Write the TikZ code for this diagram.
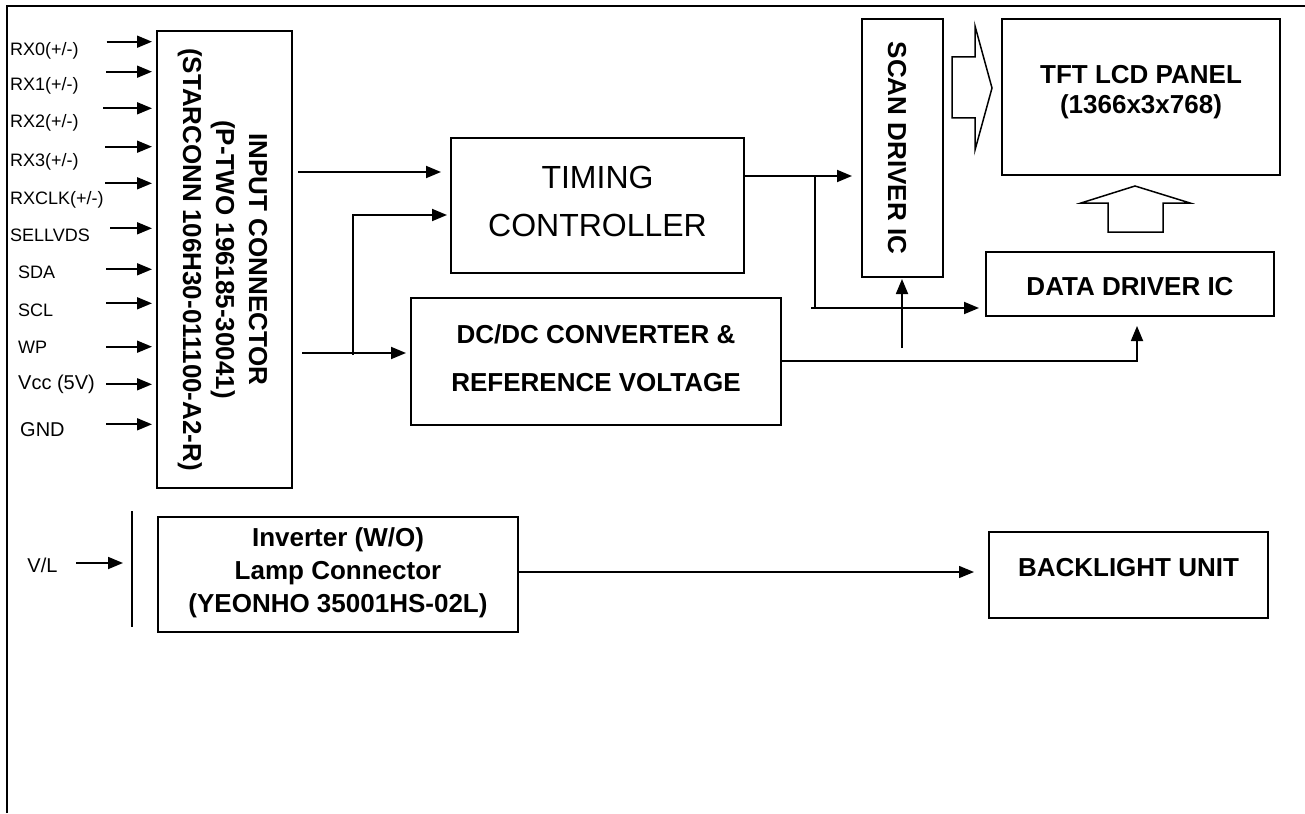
\documentclass[tikz,border=0pt]{standalone}
\usepackage{fontspec}
\setmainfont{Liberation Sans}
\usetikzlibrary{arrows.meta}
\begin{document}
\begin{tikzpicture}[x=1pt,y=-1pt,
  box/.style={draw, line width=2pt, inner sep=0pt},
  arr/.style={line width=1.8pt, -{Triangle[length=15pt,width=12pt]}},
  thinarr/.style={line width=1.4pt, -{Triangle[length=15pt,width=12pt]}},
  btxt/.style={font=\fontsize{26}{33}\selectfont\bfseries, align=center, inner sep=0pt},
  lbl/.style={font=\fontsize{18}{20}\selectfont, anchor=west, inner sep=0pt},
  lblb/.style={font=\fontsize{20}{22}\selectfont, anchor=west, inner sep=0pt},
  hollow/.style={draw, line width=1.5pt, line join=miter}]
\useasboundingbox (0,0) rectangle (1305,813);
% frame
\draw[line width=1.5pt] (7,813) -- (7,6) -- (1305,6);

% boxes
\node[box, minimum width=135pt, minimum height=456pt] (inp) at (224.5,259.5) {};
\node[btxt, rotate=-90] (inptxt) at (222.5,259.5) {INPUT CONNECTOR\\(P-TWO 196185-30041)\\(STARCONN 106H30-011100-A2-R)};
\node[box, minimum width=293pt, minimum height=135pt] (tc) at (597.5,205.5) {};
\node[font=\fontsize{32}{48}\selectfont, align=center, inner sep=0pt] (tctxt) at (597.5,201) {TIMING\\CONTROLLER};
\node[box, minimum width=370pt, minimum height=127pt] (dc) at (596,361.5) {};
\node[font=\fontsize{26}{48}\selectfont\bfseries, align=center, inner sep=0pt] (dctxt) at (596,358) {DC/DC CONVERTER \&\\REFERENCE VOLTAGE};
\node[box, minimum width=81pt, minimum height=258pt] (scan) at (902.5,148) {};
\node[btxt, rotate=-90] (scantxt) at (897,148) {SCAN DRIVER IC};
\node[box, minimum width=278pt, minimum height=156pt] (panel) at (1141,97) {};
\node[font=\fontsize{26}{30}\selectfont\bfseries, align=center, inner sep=0pt] (paneltxt) at (1141,92) {TFT LCD PANEL\\(1366x3x768)};
\node[box, minimum width=288pt, minimum height=64pt] (dd) at (1130,284) {};
\node[btxt] (ddtxt) at (1130,287) {DATA DRIVER IC};
\node[box, minimum width=360pt, minimum height=115pt] (inv) at (338,574.5) {};
\node[btxt] (invtxt) at (338,573) {Inverter (W/O)\\Lamp Connector\\(YEONHO 35001HS-02L)};
\node[box, minimum width=279pt, minimum height=86pt] (bl) at (1128.5,575) {};
\node[btxt] (bltxt) at (1128.5,568) {BACKLIGHT UNIT};

% left input labels and arrows
\node[lbl] (l1) at (10,50.7) {RX0(+/-)};
\node[lbl] (l2) at (10,85.7) {RX1(+/-)};
\node[lbl] (l3) at (10,123) {RX2(+/-)};
\node[lbl] (l4) at (10,161.7) {RX3(+/-)};
\node[lbl] (l5) at (10,200) {RXCLK(+/-)};
\node[lbl] (l6) at (10,235) {SELLVDS};
\node[lbl] (l7) at (18,272.7) {SDA};
\node[lbl] (l8) at (18,310) {SCL};
\node[lbl] (l9) at (18,347) {WP};
\node[lblb] (l10) at (18,384) {Vcc (5V)};
\node[lblb] (l11) at (20,430) {GND};
\coordinate (s1) at (106.7,41.7);
\coordinate (s2) at (106,71.7);
\coordinate (s3) at (103.3,108.3);
\coordinate (s4) at (105,146.7);
\coordinate (s5) at (105,183.3);
\coordinate (s6) at (110,228.3);
\coordinate (s7) at (106,269.3);
\coordinate (s8) at (106,303.3);
\coordinate (s9) at (106,346.7);
\coordinate (s10) at (106,384.3);
\coordinate (s11) at (106,424.3);
\foreach \i in {1,...,11} {\draw[arr, shorten >=4pt] (s\i) -- (inp.west |- s\i);}

% input connector to timing / dcdc
\draw[arr, shorten <=5pt, shorten >=9pt] (inp.east |- 0,172) -- (tc.west |- 0,172);
\draw[arr, shorten <=9pt, shorten >=4pt] (inp.east |- 0,353) -- (dc.west |- 0,353);
\coordinate (j1) at (353,355);
\draw[arr, shorten >=3pt] (j1) |- (tc.west |- 0,215);

% timing to scan / data
\draw[arr, shorten >=9pt] (tc.east |- 0,176) -- (scan.west |- 0,176);
\coordinate (j2) at (815,176);
\coordinate (j2b) at (815,308);
\coordinate (j2c) at (811,308);
\draw[line width=1.8pt] (j2) -- (j2b);
\draw[arr, shorten >=6pt] (j2c) -- (dd.west |- j2c);

% dcdc to scan / data
\coordinate (j3) at (902,348);
\draw[arr, shorten >=1pt] (j3) -- (scan.south -| j3);
\draw[arr, shorten >=9pt] (dc.east |- 0,361) -| (dd.south -| 1137,0);

% hollow arrows
\draw[hollow] (952,57) -- (975,57) -- (975,26) -- (992,88) -- (975,150) -- (975,118) -- (952,118) -- cycle;
\draw[hollow] (1108,232) -- (1108,203) -- (1081,203) -- (1135,186) -- (1190,203) -- (1163,203) -- (1163,232) -- cycle;

% V/L
\node[lblb, anchor=center] (vl) at (42.5,565) {V/L};
\coordinate (vs) at (76,563);
\coordinate (bt) at (132,511);
\coordinate (bb) at (132,627);
\draw[line width=1.5pt] (bt) -- (bb);
\draw[arr, shorten >=9pt] (vs) -- (bt |- vs);

% inverter to backlight
\draw[thinarr, shorten >=14pt] (inv.east |- 0,572) -- (bl.west |- 0,572);
\end{tikzpicture}
\end{document}
